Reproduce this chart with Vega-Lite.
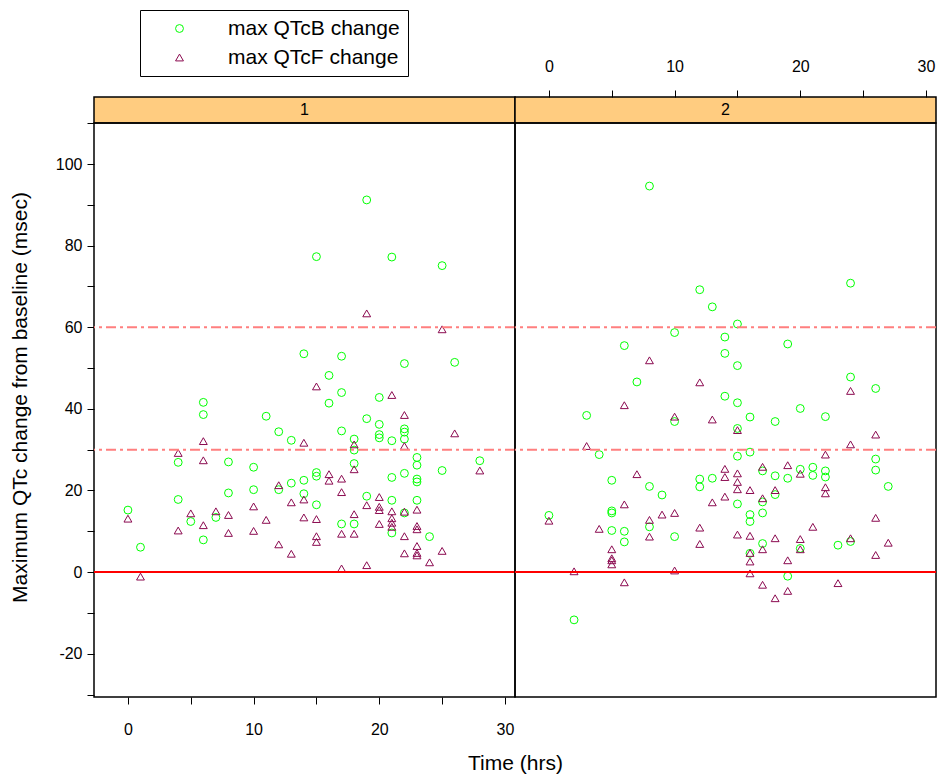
{
  "$schema": "https://vega.github.io/schema/vega-lite/v6.json",
  "padding": {"left": 8, "top": 9, "right": 2, "bottom": 0},
  "config": {
    "font": "Liberation Sans",
    "view": {"stroke": "black", "strokeWidth": 1.5},
    "axis": {"grid": false, "domain": false, "tickColor": "black", "labelColor": "black", "labelFontSize": 16, "titleFontSize": 21, "titleFontWeight": "normal", "titleColor": "black", "tickSize": 7, "tickWidth": 1},
    "legend": {"labelLimit": 400},
    "concat": {"spacing": 0}
  },
  "datasets": {
    "qtc": [
      {"panel":1,"t":0,"v":15.2,"s":"max QTcB change"},{"panel":1,"t":1,"v":6.1,"s":"max QTcB change"},{"panel":1,"t":4,"v":26.9,"s":"max QTcB change"},{"panel":1,"t":4,"v":17.8,"s":"max QTcB change"},{"panel":1,"t":5,"v":12.4,"s":"max QTcB change"},{"panel":1,"t":6,"v":41.6,"s":"max QTcB change"},{"panel":1,"t":6,"v":38.6,"s":"max QTcB change"},{"panel":1,"t":6,"v":7.9,"s":"max QTcB change"},{"panel":1,"t":7,"v":13.4,"s":"max QTcB change"},{"panel":1,"t":8,"v":27,"s":"max QTcB change"},{"panel":1,"t":8,"v":19.4,"s":"max QTcB change"},{"panel":1,"t":10,"v":25.7,"s":"max QTcB change"},{"panel":1,"t":10,"v":20.2,"s":"max QTcB change"},{"panel":1,"t":11,"v":38.2,"s":"max QTcB change"},{"panel":1,"t":12,"v":34.4,"s":"max QTcB change"},{"panel":1,"t":12,"v":20.2,"s":"max QTcB change"},{"panel":1,"t":13,"v":32.3,"s":"max QTcB change"},{"panel":1,"t":13,"v":21.8,"s":"max QTcB change"},{"panel":1,"t":14,"v":53.5,"s":"max QTcB change"},{"panel":1,"t":14,"v":22.5,"s":"max QTcB change"},{"panel":1,"t":14,"v":19.2,"s":"max QTcB change"},{"panel":1,"t":15,"v":77.3,"s":"max QTcB change"},{"panel":1,"t":15,"v":24.4,"s":"max QTcB change"},{"panel":1,"t":15,"v":23.5,"s":"max QTcB change"},{"panel":1,"t":15,"v":16.5,"s":"max QTcB change"},{"panel":1,"t":16,"v":48.2,"s":"max QTcB change"},{"panel":1,"t":16,"v":41.4,"s":"max QTcB change"},{"panel":1,"t":17,"v":52.9,"s":"max QTcB change"},{"panel":1,"t":17,"v":44.0,"s":"max QTcB change"},{"panel":1,"t":17,"v":34.6,"s":"max QTcB change"},{"panel":1,"t":17,"v":11.8,"s":"max QTcB change"},{"panel":1,"t":18,"v":32.6,"s":"max QTcB change"},{"panel":1,"t":18,"v":29.9,"s":"max QTcB change"},{"panel":1,"t":18,"v":26.6,"s":"max QTcB change"},{"panel":1,"t":18,"v":11.8,"s":"max QTcB change"},{"panel":1,"t":19,"v":91.2,"s":"max QTcB change"},{"panel":1,"t":19,"v":37.6,"s":"max QTcB change"},{"panel":1,"t":19,"v":18.6,"s":"max QTcB change"},{"panel":1,"t":20,"v":42.8,"s":"max QTcB change"},{"panel":1,"t":20,"v":36.2,"s":"max QTcB change"},{"panel":1,"t":20,"v":33.7,"s":"max QTcB change"},{"panel":1,"t":20,"v":32.9,"s":"max QTcB change"},{"panel":1,"t":21,"v":77.2,"s":"max QTcB change"},{"panel":1,"t":21,"v":32.2,"s":"max QTcB change"},{"panel":1,"t":21,"v":23.2,"s":"max QTcB change"},{"panel":1,"t":21,"v":17.6,"s":"max QTcB change"},{"panel":1,"t":21,"v":9.6,"s":"max QTcB change"},{"panel":1,"t":22,"v":51.1,"s":"max QTcB change"},{"panel":1,"t":22,"v":35.1,"s":"max QTcB change"},{"panel":1,"t":22,"v":34.3,"s":"max QTcB change"},{"panel":1,"t":22,"v":32.6,"s":"max QTcB change"},{"panel":1,"t":22,"v":24.2,"s":"max QTcB change"},{"panel":1,"t":22,"v":14.5,"s":"max QTcB change"},{"panel":1,"t":23,"v":28.1,"s":"max QTcB change"},{"panel":1,"t":23,"v":26.2,"s":"max QTcB change"},{"panel":1,"t":23,"v":22.8,"s":"max QTcB change"},{"panel":1,"t":23,"v":22.1,"s":"max QTcB change"},{"panel":1,"t":23,"v":17.6,"s":"max QTcB change"},{"panel":1,"t":24,"v":8.7,"s":"max QTcB change"},{"panel":1,"t":25,"v":75.1,"s":"max QTcB change"},{"panel":1,"t":25,"v":24.9,"s":"max QTcB change"},{"panel":1,"t":26,"v":51.4,"s":"max QTcB change"},{"panel":1,"t":28,"v":27.3,"s":"max QTcB change"},
      {"panel":1,"t":0,"v":13.1,"s":"max QTcF change"},{"panel":1,"t":1,"v":-1.1,"s":"max QTcF change"},{"panel":1,"t":4,"v":29.2,"s":"max QTcF change"},{"panel":1,"t":4,"v":10.2,"s":"max QTcF change"},{"panel":1,"t":5,"v":14.4,"s":"max QTcF change"},{"panel":1,"t":6,"v":32.1,"s":"max QTcF change"},{"panel":1,"t":6,"v":27.4,"s":"max QTcF change"},{"panel":1,"t":6,"v":11.5,"s":"max QTcF change"},{"panel":1,"t":7,"v":14.9,"s":"max QTcF change"},{"panel":1,"t":8,"v":14.0,"s":"max QTcF change"},{"panel":1,"t":8,"v":9.6,"s":"max QTcF change"},{"panel":1,"t":10,"v":16.1,"s":"max QTcF change"},{"panel":1,"t":10,"v":10.1,"s":"max QTcF change"},{"panel":1,"t":11,"v":12.8,"s":"max QTcF change"},{"panel":1,"t":12,"v":21.3,"s":"max QTcF change"},{"panel":1,"t":12,"v":6.8,"s":"max QTcF change"},{"panel":1,"t":13,"v":17.1,"s":"max QTcF change"},{"panel":1,"t":13,"v":4.5,"s":"max QTcF change"},{"panel":1,"t":14,"v":31.7,"s":"max QTcF change"},{"panel":1,"t":14,"v":17.8,"s":"max QTcF change"},{"panel":1,"t":14,"v":13.4,"s":"max QTcF change"},{"panel":1,"t":15,"v":45.5,"s":"max QTcF change"},{"panel":1,"t":15,"v":13.0,"s":"max QTcF change"},{"panel":1,"t":15,"v":8.8,"s":"max QTcF change"},{"panel":1,"t":15,"v":7.4,"s":"max QTcF change"},{"panel":1,"t":16,"v":24,"s":"max QTcF change"},{"panel":1,"t":16,"v":22.4,"s":"max QTcF change"},{"panel":1,"t":17,"v":22.9,"s":"max QTcF change"},{"panel":1,"t":17,"v":19.6,"s":"max QTcF change"},{"panel":1,"t":17,"v":9.4,"s":"max QTcF change"},{"panel":1,"t":17,"v":0.9,"s":"max QTcF change"},{"panel":1,"t":18,"v":31.3,"s":"max QTcF change"},{"panel":1,"t":18,"v":25.2,"s":"max QTcF change"},{"panel":1,"t":18,"v":14.2,"s":"max QTcF change"},{"panel":1,"t":18,"v":9.4,"s":"max QTcF change"},{"panel":1,"t":19,"v":63.4,"s":"max QTcF change"},{"panel":1,"t":19,"v":16.4,"s":"max QTcF change"},{"panel":1,"t":19,"v":1.7,"s":"max QTcF change"},{"panel":1,"t":20,"v":18.4,"s":"max QTcF change"},{"panel":1,"t":20,"v":16.0,"s":"max QTcF change"},{"panel":1,"t":20,"v":15.2,"s":"max QTcF change"},{"panel":1,"t":20,"v":11.8,"s":"max QTcF change"},{"panel":1,"t":21,"v":43.4,"s":"max QTcF change"},{"panel":1,"t":21,"v":14.9,"s":"max QTcF change"},{"panel":1,"t":21,"v":13.2,"s":"max QTcF change"},{"panel":1,"t":21,"v":12.1,"s":"max QTcF change"},{"panel":1,"t":21,"v":11.1,"s":"max QTcF change"},{"panel":1,"t":22,"v":38.5,"s":"max QTcF change"},{"panel":1,"t":22,"v":30.9,"s":"max QTcF change"},{"panel":1,"t":22,"v":14.8,"s":"max QTcF change"},{"panel":1,"t":22,"v":8.8,"s":"max QTcF change"},{"panel":1,"t":22,"v":4.6,"s":"max QTcF change"},{"panel":1,"t":23,"v":15.3,"s":"max QTcF change"},{"panel":1,"t":23,"v":11.3,"s":"max QTcF change"},{"panel":1,"t":23,"v":10.5,"s":"max QTcF change"},{"panel":1,"t":23,"v":6.4,"s":"max QTcF change"},{"panel":1,"t":23,"v":4.7,"s":"max QTcF change"},{"panel":1,"t":23,"v":4.1,"s":"max QTcF change"},{"panel":1,"t":24,"v":2.4,"s":"max QTcF change"},{"panel":1,"t":25,"v":59.5,"s":"max QTcF change"},{"panel":1,"t":25,"v":5.2,"s":"max QTcF change"},{"panel":1,"t":26,"v":34.0,"s":"max QTcF change"},{"panel":1,"t":28,"v":24.9,"s":"max QTcF change"},
      {"panel":2,"t":0,"v":13.9,"s":"max QTcB change"},{"panel":2,"t":2,"v":-11.7,"s":"max QTcB change"},{"panel":2,"t":3,"v":38.4,"s":"max QTcB change"},{"panel":2,"t":4,"v":28.8,"s":"max QTcB change"},{"panel":2,"t":5,"v":22.5,"s":"max QTcB change"},{"panel":2,"t":5,"v":15.0,"s":"max QTcB change"},{"panel":2,"t":5,"v":14.5,"s":"max QTcB change"},{"panel":2,"t":5,"v":10.2,"s":"max QTcB change"},{"panel":2,"t":6,"v":55.5,"s":"max QTcB change"},{"panel":2,"t":6,"v":10.0,"s":"max QTcB change"},{"panel":2,"t":6,"v":7.4,"s":"max QTcB change"},{"panel":2,"t":7,"v":46.6,"s":"max QTcB change"},{"panel":2,"t":8,"v":94.6,"s":"max QTcB change"},{"panel":2,"t":8,"v":21.0,"s":"max QTcB change"},{"panel":2,"t":8,"v":11.1,"s":"max QTcB change"},{"panel":2,"t":9,"v":18.9,"s":"max QTcB change"},{"panel":2,"t":10,"v":58.7,"s":"max QTcB change"},{"panel":2,"t":10,"v":36.9,"s":"max QTcB change"},{"panel":2,"t":10,"v":8.7,"s":"max QTcB change"},{"panel":2,"t":12,"v":69.2,"s":"max QTcB change"},{"panel":2,"t":12,"v":22.8,"s":"max QTcB change"},{"panel":2,"t":12,"v":20.9,"s":"max QTcB change"},{"panel":2,"t":13,"v":65.0,"s":"max QTcB change"},{"panel":2,"t":13,"v":23.0,"s":"max QTcB change"},{"panel":2,"t":14,"v":57.6,"s":"max QTcB change"},{"panel":2,"t":14,"v":53.6,"s":"max QTcB change"},{"panel":2,"t":14,"v":43.1,"s":"max QTcB change"},{"panel":2,"t":15,"v":60.8,"s":"max QTcB change"},{"panel":2,"t":15,"v":50.6,"s":"max QTcB change"},{"panel":2,"t":15,"v":41.5,"s":"max QTcB change"},{"panel":2,"t":15,"v":35.2,"s":"max QTcB change"},{"panel":2,"t":15,"v":28.4,"s":"max QTcB change"},{"panel":2,"t":15,"v":16.7,"s":"max QTcB change"},{"panel":2,"t":16,"v":38.0,"s":"max QTcB change"},{"panel":2,"t":16,"v":29.4,"s":"max QTcB change"},{"panel":2,"t":16,"v":14.1,"s":"max QTcB change"},{"panel":2,"t":16,"v":12.4,"s":"max QTcB change"},{"panel":2,"t":16,"v":4.6,"s":"max QTcB change"},{"panel":2,"t":17,"v":24.8,"s":"max QTcB change"},{"panel":2,"t":17,"v":17.2,"s":"max QTcB change"},{"panel":2,"t":17,"v":14.5,"s":"max QTcB change"},{"panel":2,"t":17,"v":7.0,"s":"max QTcB change"},{"panel":2,"t":18,"v":36.9,"s":"max QTcB change"},{"panel":2,"t":18,"v":23.6,"s":"max QTcB change"},{"panel":2,"t":18,"v":19.0,"s":"max QTcB change"},{"panel":2,"t":19,"v":55.9,"s":"max QTcB change"},{"panel":2,"t":19,"v":23.0,"s":"max QTcB change"},{"panel":2,"t":19,"v":-1.0,"s":"max QTcB change"},{"panel":2,"t":20,"v":40.1,"s":"max QTcB change"},{"panel":2,"t":20,"v":25.2,"s":"max QTcB change"},{"panel":2,"t":20,"v":5.8,"s":"max QTcB change"},{"panel":2,"t":21,"v":25.7,"s":"max QTcB change"},{"panel":2,"t":21,"v":23.7,"s":"max QTcB change"},{"panel":2,"t":22,"v":38.1,"s":"max QTcB change"},{"panel":2,"t":22,"v":24.8,"s":"max QTcB change"},{"panel":2,"t":22,"v":23.3,"s":"max QTcB change"},{"panel":2,"t":23,"v":6.6,"s":"max QTcB change"},{"panel":2,"t":24,"v":70.8,"s":"max QTcB change"},{"panel":2,"t":24,"v":47.8,"s":"max QTcB change"},{"panel":2,"t":24,"v":7.5,"s":"max QTcB change"},{"panel":2,"t":26,"v":45.0,"s":"max QTcB change"},{"panel":2,"t":26,"v":27.7,"s":"max QTcB change"},{"panel":2,"t":26,"v":25.0,"s":"max QTcB change"},{"panel":2,"t":27,"v":21.0,"s":"max QTcB change"},
      {"panel":2,"t":0,"v":12.6,"s":"max QTcF change"},{"panel":2,"t":2,"v":0.2,"s":"max QTcF change"},{"panel":2,"t":3,"v":30.9,"s":"max QTcF change"},{"panel":2,"t":4,"v":10.6,"s":"max QTcF change"},{"panel":2,"t":5,"v":5.6,"s":"max QTcF change"},{"panel":2,"t":5,"v":3.4,"s":"max QTcF change"},{"panel":2,"t":5,"v":2.9,"s":"max QTcF change"},{"panel":2,"t":5,"v":1.9,"s":"max QTcF change"},{"panel":2,"t":6,"v":40.9,"s":"max QTcF change"},{"panel":2,"t":6,"v":16.6,"s":"max QTcF change"},{"panel":2,"t":6,"v":-2.5,"s":"max QTcF change"},{"panel":2,"t":7,"v":24.0,"s":"max QTcF change"},{"panel":2,"t":8,"v":51.9,"s":"max QTcF change"},{"panel":2,"t":8,"v":12.8,"s":"max QTcF change"},{"panel":2,"t":8,"v":8.7,"s":"max QTcF change"},{"panel":2,"t":9,"v":14.1,"s":"max QTcF change"},{"panel":2,"t":10,"v":38.1,"s":"max QTcF change"},{"panel":2,"t":10,"v":14.5,"s":"max QTcF change"},{"panel":2,"t":10,"v":0.4,"s":"max QTcF change"},{"panel":2,"t":12,"v":46.5,"s":"max QTcF change"},{"panel":2,"t":12,"v":10.9,"s":"max QTcF change"},{"panel":2,"t":12,"v":6.9,"s":"max QTcF change"},{"panel":2,"t":13,"v":37.4,"s":"max QTcF change"},{"panel":2,"t":13,"v":17.1,"s":"max QTcF change"},{"panel":2,"t":14,"v":25.3,"s":"max QTcF change"},{"panel":2,"t":14,"v":23.3,"s":"max QTcF change"},{"panel":2,"t":14,"v":18.5,"s":"max QTcF change"},{"panel":2,"t":15,"v":34.8,"s":"max QTcF change"},{"panel":2,"t":15,"v":24.2,"s":"max QTcF change"},{"panel":2,"t":15,"v":22.1,"s":"max QTcF change"},{"panel":2,"t":15,"v":20.3,"s":"max QTcF change"},{"panel":2,"t":15,"v":9.2,"s":"max QTcF change"},{"panel":2,"t":16,"v":20.1,"s":"max QTcF change"},{"panel":2,"t":16,"v":8.9,"s":"max QTcF change"},{"panel":2,"t":16,"v":4.7,"s":"max QTcF change"},{"panel":2,"t":16,"v":2.6,"s":"max QTcF change"},{"panel":2,"t":16,"v":-0.3,"s":"max QTcF change"},{"panel":2,"t":17,"v":25.8,"s":"max QTcF change"},{"panel":2,"t":17,"v":18.1,"s":"max QTcF change"},{"panel":2,"t":17,"v":5.6,"s":"max QTcF change"},{"panel":2,"t":17,"v":-3.1,"s":"max QTcF change"},{"panel":2,"t":18,"v":20.1,"s":"max QTcF change"},{"panel":2,"t":18,"v":8.3,"s":"max QTcF change"},{"panel":2,"t":18,"v":-6.4,"s":"max QTcF change"},{"panel":2,"t":19,"v":26.2,"s":"max QTcF change"},{"panel":2,"t":19,"v":2.9,"s":"max QTcF change"},{"panel":2,"t":19,"v":-4.6,"s":"max QTcF change"},{"panel":2,"t":20,"v":24.1,"s":"max QTcF change"},{"panel":2,"t":20,"v":8.1,"s":"max QTcF change"},{"panel":2,"t":20,"v":5.6,"s":"max QTcF change"},{"panel":2,"t":21,"v":11.1,"s":"max QTcF change"},{"panel":2,"t":22,"v":28.8,"s":"max QTcF change"},{"panel":2,"t":22,"v":20.8,"s":"max QTcF change"},{"panel":2,"t":22,"v":19.3,"s":"max QTcF change"},{"panel":2,"t":23,"v":-2.7,"s":"max QTcF change"},{"panel":2,"t":24,"v":44.4,"s":"max QTcF change"},{"panel":2,"t":24,"v":31.3,"s":"max QTcF change"},{"panel":2,"t":24,"v":8.3,"s":"max QTcF change"},{"panel":2,"t":26,"v":33.7,"s":"max QTcF change"},{"panel":2,"t":26,"v":13.3,"s":"max QTcF change"},{"panel":2,"t":26,"v":4.2,"s":"max QTcF change"},{"panel":2,"t":27,"v":7.2,"s":"max QTcF change"}
    ]
  },
  "columns": 2,
  "spacing": 0,
  "bounds": "flush",
  "resolve": {
    "scale": {"x": "independent", "y": "independent", "color": "shared", "shape": "shared"},
    "legend": {"color": "shared", "shape": "shared"}
  },
  "concat": [
    {
      "width": 421, "height": 26,
      "view": {"fill": "#FFCC80", "stroke": "black", "strokeWidth": 1.5},
      "data": {"values": [{"panel": "1"}]},
      "mark": {"type": "text", "fontSize": 16, "color": "black"},
      "encoding": {"text": {"field": "panel"}}
    },
    {
      "width": 421, "height": 26,
      "view": {"fill": "#FFCC80", "stroke": "black", "strokeWidth": 1.5},
      "data": {"values": [{"panel": "2"}]},
      "mark": {"type": "text", "fontSize": 16, "color": "black"},
      "encoding": {
        "text": {"field": "panel"},
        "x": {"datum": 14.05, "type": "quantitative", "scale": {"domain": [-2.7, 30.8], "nice": false, "zero": false},
              "axis": {"orient": "top", "title": null, "values": [0, 5, 10, 15, 20, 25, 30], "labelExpr": "datum.value % 10 === 0 ? datum.label : ''", "labelPadding": 16, "labelFlush": false}}
      }
    },
    {
      "width": 421, "height": 574,
      "layer": [
        {
          "data": {"name": "qtc"},
          "transform": [{"filter": "datum.panel === 1"}],
          "mark": {"type": "point", "filled": false, "size": 62, "strokeWidth": 1, "opacity": 1},
          "encoding": {
            "x": {"field": "t", "type": "quantitative", "scale": {"domain": [-2.7, 30.8], "nice": false, "zero": false},
                  "axis": {"orient": "bottom", "title": "Time (hrs)", "values": [0, 5, 10, 15, 20, 25, 30], "labelExpr": "datum.value % 10 === 0 ? datum.label : ''", "labelPadding": 17, "labelFlush": false, "titleX": 421, "titleY": 66, "titleBaseline": "middle"}},
            "y": {"field": "v", "type": "quantitative", "scale": {"domain": [-30.6, 110.05], "nice": false, "zero": false},
                  "axis": {"orient": "left", "title": "Maximum QTc change from baseline (msec)", "values": [-30, -20, -10, 0, 10, 20, 30, 40, 50, 60, 70, 80, 90, 100, 110], "labelExpr": "datum.value % 20 === 0 ? toString(datum.value) : ''", "labelPadding": 5, "labelFlush": false, "titleX": -74, "titleY": 274, "titleBaseline": "middle"}},
            "color": {"field": "s", "type": "nominal", "scale": {"domain": ["max QTcB change", "max QTcF change"], "range": ["#00FF00", "#8B0A50"]},
                      "legend": {"title": null, "orient": "none", "legendX": 46, "legendY": -87, "strokeColor": "black", "fillColor": "white", "padding": 8, "labelFontSize": 21, "labelColor": "black", "symbolSize": 62, "symbolStrokeWidth": 1, "rowPadding": 7, "labelOffset": 38, "symbolOffset": 21, "labelLimit": 400}},
            "shape": {"field": "s", "type": "nominal", "scale": {"domain": ["max QTcB change", "max QTcF change"], "range": ["circle", "triangle-up"]},
                      "legend": {"title": null, "orient": "none", "legendX": 46, "legendY": -87, "strokeColor": "black", "fillColor": "white", "padding": 8, "labelFontSize": 21, "labelColor": "black", "symbolSize": 62, "symbolStrokeWidth": 1, "rowPadding": 7, "labelOffset": 38, "symbolOffset": 21, "labelLimit": 400}}
          }
        },
        {
          "data": {"values": [{"ref": 30}, {"ref": 60}]},
          "mark": {"type": "rule", "color": "#FF7F7F", "strokeWidth": 2, "strokeDash": [10, 4, 3, 4]},
          "encoding": {"y": {"field": "ref", "type": "quantitative", "scale": {"domain": [-30.6, 110.05], "nice": false, "zero": false},
                  "axis": {"orient": "left", "title": "Maximum QTc change from baseline (msec)", "values": [-30, -20, -10, 0, 10, 20, 30, 40, 50, 60, 70, 80, 90, 100, 110], "labelExpr": "datum.value % 20 === 0 ? toString(datum.value) : ''", "labelPadding": 5, "labelFlush": false, "titleX": -74, "titleY": 274, "titleBaseline": "middle"}}}
        },
        {
          "data": {"values": [{"ref": 0}]},
          "mark": {"type": "rule", "color": "#FF0000", "strokeWidth": 2},
          "encoding": {"y": {"field": "ref", "type": "quantitative", "scale": {"domain": [-30.6, 110.05], "nice": false, "zero": false},
                  "axis": {"orient": "left", "title": "Maximum QTc change from baseline (msec)", "values": [-30, -20, -10, 0, 10, 20, 30, 40, 50, 60, 70, 80, 90, 100, 110], "labelExpr": "datum.value % 20 === 0 ? toString(datum.value) : ''", "labelPadding": 5, "labelFlush": false, "titleX": -74, "titleY": 274, "titleBaseline": "middle"}}}
        }
      ]
    },
    {
      "width": 421, "height": 574,
      "layer": [
        {
          "data": {"name": "qtc"},
          "transform": [{"filter": "datum.panel === 2"}],
          "mark": {"type": "point", "filled": false, "size": 62, "strokeWidth": 1, "opacity": 1},
          "encoding": {
            "x": {"field": "t", "type": "quantitative", "scale": {"domain": [-2.7, 30.8], "nice": false, "zero": false}, "axis": null},
            "y": {"field": "v", "type": "quantitative", "scale": {"domain": [-30.6, 110.05], "nice": false, "zero": false}, "axis": null},
            "color": {"field": "s", "type": "nominal", "scale": {"domain": ["max QTcB change", "max QTcF change"], "range": ["#00FF00", "#8B0A50"]},
                      "legend": {"title": null, "orient": "none", "legendX": 46, "legendY": -87, "strokeColor": "black", "fillColor": "white", "padding": 8, "labelFontSize": 21, "labelColor": "black", "symbolSize": 62, "symbolStrokeWidth": 1, "rowPadding": 7, "labelOffset": 38, "symbolOffset": 21, "labelLimit": 400}},
            "shape": {"field": "s", "type": "nominal", "scale": {"domain": ["max QTcB change", "max QTcF change"], "range": ["circle", "triangle-up"]},
                      "legend": {"title": null, "orient": "none", "legendX": 46, "legendY": -87, "strokeColor": "black", "fillColor": "white", "padding": 8, "labelFontSize": 21, "labelColor": "black", "symbolSize": 62, "symbolStrokeWidth": 1, "rowPadding": 7, "labelOffset": 38, "symbolOffset": 21, "labelLimit": 400}}
          }
        },
        {
          "data": {"values": [{"ref": 30}, {"ref": 60}]},
          "mark": {"type": "rule", "color": "#FF7F7F", "strokeWidth": 2, "strokeDash": [10, 4, 3, 4]},
          "encoding": {"y": {"field": "ref", "type": "quantitative", "axis": null}}
        },
        {
          "data": {"values": [{"ref": 0}]},
          "mark": {"type": "rule", "color": "#FF0000", "strokeWidth": 2},
          "encoding": {"y": {"field": "ref", "type": "quantitative", "axis": null}}
        }
      ]
    }
  ]
}
